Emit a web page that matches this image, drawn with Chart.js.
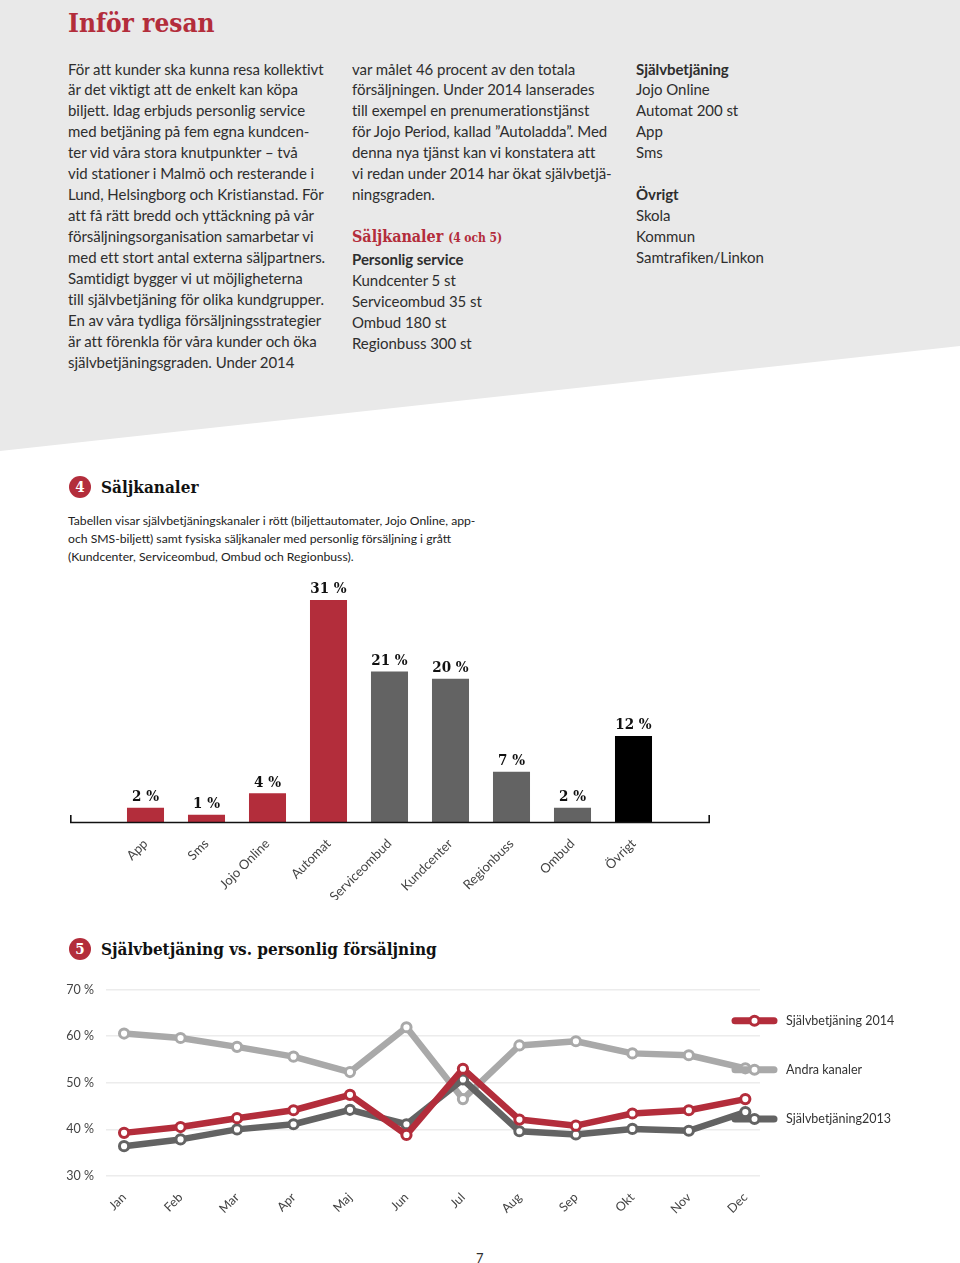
<!DOCTYPE html>
<html lang="sv"><head><meta charset="utf-8">
<script src="https://cdn.jsdelivr.net/npm/chart.js@4"></script>
<style>
html,body{margin:0;padding:0;background:#fff}
#page{position:relative;width:960px;height:1263px;overflow:hidden;font-family:Lato,sans-serif;color:#2e2e2e}
#bg{position:absolute;left:0;top:0;width:960px;height:452px;background:#e9e9e9;clip-path:polygon(0 0,960px 0,960px 346px,0 451px)}
.slab{font-family:"DejaVu Serif Condensed","DejaVu Serif",serif;font-weight:700}
.col{position:absolute;top:58.5px;font-size:15px;line-height:20.93px;white-space:pre;letter-spacing:-.05px}
#title{position:absolute;left:68px;top:6px;font-size:26px;line-height:34px;color:#b32d3b}
.h{position:absolute;left:101px;font-size:17px;line-height:22px;color:#111;white-space:nowrap}
.num{position:absolute;left:69px;width:22px;height:22px;border-radius:50%;background:#b32d3b;color:#fff;font-size:15px;line-height:22px;text-align:center}
#intro{position:absolute;left:68px;top:512px;font-size:12.2px;line-height:18px;white-space:pre;color:#222}
#pg{position:absolute;left:476px;top:1250px;font-size:13px;line-height:16px}
canvas{position:absolute}
.red{color:#b32d3b}.b{font-weight:700}
</style></head><body>
<div id="page">
<div id="bg"></div>
<div id="title" class="slab">Inför resan</div>
<div id="c1" class="col" style="left:68px"></div>
<div id="c2" class="col" style="left:352px"></div>
<div id="c3" class="col" style="left:636px"></div>
<div class="num slab" style="top:476px">4</div>
<div class="h slab" style="top:476px">Säljkanaler</div>
<div id="intro"></div>
<canvas id="bars" width="700" height="330" style="left:40px;top:570px"></canvas>
<div class="num slab" style="top:938px">5</div>
<div class="h slab" style="top:938px">Självbetjäning vs. personlig försäljning</div>
<canvas id="lines" width="920" height="250" style="left:40px;top:970px"></canvas>
<div id="pg">7</div>
</div>
<script>
const column1 = ["För att kunder ska kunna resa kollektivt","är det viktigt att de enkelt kan köpa","biljett. Idag erbjuds personlig service","med betjäning på fem egna kundcen-","ter vid våra stora knutpunkter – två","vid stationer i Malmö och resterande i","Lund, Helsingborg och Kristianstad. För","att få rätt bredd och yttäckning på vår","försäljningsorganisation samarbetar vi","med ett stort antal externa säljpartners.","Samtidigt bygger vi ut möjligheterna","till självbetjäning för olika kundgrupper.","En av våra tydliga försäljningsstrategier","är att förenkla för våra kunder och öka","självbetjäningsgraden. Under 2014"];
const column2 = ["var målet 46 procent av den totala","försäljningen. Under 2014 lanserades","till exempel en prenumerationstjänst","för Jojo Period, kallad ”Autoladda”. Med","denna nya tjänst kan vi konstatera att","vi redan under 2014 har ökat självbetjä-","ningsgraden.","",'<span class="slab red" style="font-size:16px">Säljkanaler <span style="font-size:12px">(4 och 5)</span></span>','<span class="b">Personlig service</span>',"Kundcenter 5 st","Serviceombud 35 st","Ombud 180 st","Regionbuss 300 st"];
const column3 = ['<span class="b">Självbetjäning</span>',"Jojo Online","Automat 200 st","App","Sms","",'<span class="b">Övrigt</span>',"Skola","Kommun","Samtrafiken/Linkon"];
const introLines = ["Tabellen visar självbetjäningskanaler i rött (biljettautomater, Jojo Online, app-","och SMS-biljett) samt fysiska säljkanaler med personlig försäljning i grått","(Kundcenter, Serviceombud, Ombud och Regionbuss)."];

const channels = ["App","Sms","Jojo Online","Automat","Serviceombud","Kundcenter","Regionbuss","Ombud","Övrigt"];
const channelShares = [2,1,4,31,21,20,7,2,12];
const RED="#b32d3b", GREY="#636363", BLACK="#000000", LIGHT="#a9a9a9";
const channelColors = [RED,RED,RED,RED,GREY,GREY,GREY,GREY,BLACK];

const months = ["Jan","Feb","Mar","Apr","Maj","Jun","Jul","Aug","Sep","Okt","Nov","Dec"];
const selfService2014 = [39.25,40.5,42.4,44.1,47.4,38.8,53,42.1,40.8,43.4,44.1,46.5];
const otherChannels = [60.55,59.6,57.7,55.6,52.3,61.9,46.5,58,58.9,56.3,55.9,53.1];
const selfService2013 = [36.4,37.85,40,41.1,44.2,41.1,50.7,39.6,38.9,40.1,39.7,43.7];
const yTicks = [30,40,50,60,70];

c1.innerHTML=column1.join("\n");c2.innerHTML=column2.join("\n");c3.innerHTML=column3.join("\n");
intro.textContent=introLines.join("\n");

const FONT="Lato, sans-serif", SLAB='"DejaVu Serif Condensed","DejaVu Serif",serif';
Chart.defaults.animation=false;
Chart.defaults.responsive=false;
Chart.defaults.devicePixelRatio=1;

const barExtras={id:"barExtras",afterDatasetsDraw(ch){
  const c=ch.ctx,y=ch.scales.y.getPixelForValue(0);
  c.save();
  c.strokeStyle="#111";c.lineWidth=1.6;
  c.beginPath();c.moveTo(30.8,y-7);c.lineTo(30.8,y+.5);c.lineTo(669.2,y+.5);c.lineTo(669.2,y-7);c.stroke();
  c.fillStyle="#111";c.font="700 15px "+SLAB;c.textAlign="center";c.textBaseline="bottom";
  ch.getDatasetMeta(0).data.forEach((el,i)=>c.fillText(channelShares[i]+" %",el.x,el.y-3));
  c.restore();
}};
new Chart(document.getElementById("bars"),{type:"bar",
  data:{labels:channels,datasets:[{data:channelShares,backgroundColor:channelColors,borderWidth:0,barPercentage:.607,categoryPercentage:1}]},
  options:{layout:{padding:{left:75,right:76,top:30,bottom:0}},
    plugins:{legend:{display:false},tooltip:{enabled:false}},
    scales:{
      x:{grid:{display:false},border:{display:false},afterFit:s=>{s.height=78},
         ticks:{minRotation:45,maxRotation:45,autoSkip:false,padding:6,color:"#444",font:{family:FONT,size:13}}},
      y:{display:false,min:0,max:31}
    }},
  plugins:[barExtras]});

const lineLegend={id:"lineLegend",afterDraw(ch){
  const c=ch.ctx,rows=[50.7,99.7,149];
  c.save();
  ch.data.datasets.forEach((d,i)=>{
    const y=rows[i];
    c.strokeStyle=d.borderColor;c.lineWidth=7;c.lineCap="round";
    c.beginPath();c.moveTo(695,y);c.lineTo(734,y);c.stroke();
    c.beginPath();c.arc(714.5,y,4.5,0,Math.PI*2);c.fillStyle="#fff";c.fill();c.lineWidth=3;c.stroke();
    c.fillStyle="#333";c.font="12.5px "+FONT;c.textAlign="left";c.textBaseline="middle";
    c.fillText(d.label,746,y);
  });
  c.restore();
}};
const series=(label,data,color,order)=>({label,data:data.map((v,i)=>({x:i,y:v})),borderColor:color,borderWidth:6.5,order,tension:0,
  pointRadius:4.6,pointBorderWidth:3,pointBackgroundColor:"#fff",pointBorderColor:color,borderJoinStyle:"round",borderCapStyle:"round",clip:false});
new Chart(document.getElementById("lines"),{type:"line",
  data:{datasets:[series("Självbetjäning 2014",selfService2014,RED,0),series("Andra kanaler",otherChannels,LIGHT,2),series("Självbetjäning2013",selfService2013,GREY,1)]},
  options:{layout:{padding:{left:0,right:200,top:15.7,bottom:0}},
    plugins:{legend:{display:false},tooltip:{enabled:false}},
    scales:{
      x:{type:"linear",min:-.32,max:11.26,grid:{display:false},border:{display:false},
         afterBuildTicks:s=>{s.ticks=months.map((_,i)=>({value:i}))},afterFit:s=>{s.height=44},
         ticks:{callback:v=>months[v],minRotation:45,maxRotation:45,autoSkip:false,padding:6,color:"#444",font:{family:FONT,size:12.5}}},
      y:{min:30,max:70,afterBuildTicks:s=>{s.ticks=yTicks.map(v=>({value:v}))},afterFit:s=>{s.width=66},
         grid:{color:"#ececec",lineWidth:1.5,drawTicks:false},border:{display:false},
         ticks:{callback:v=>v+" %",padding:12,color:"#444",font:{family:FONT,size:12.5}}}
    }},
  plugins:[lineLegend]});
</script>
</body></html>
